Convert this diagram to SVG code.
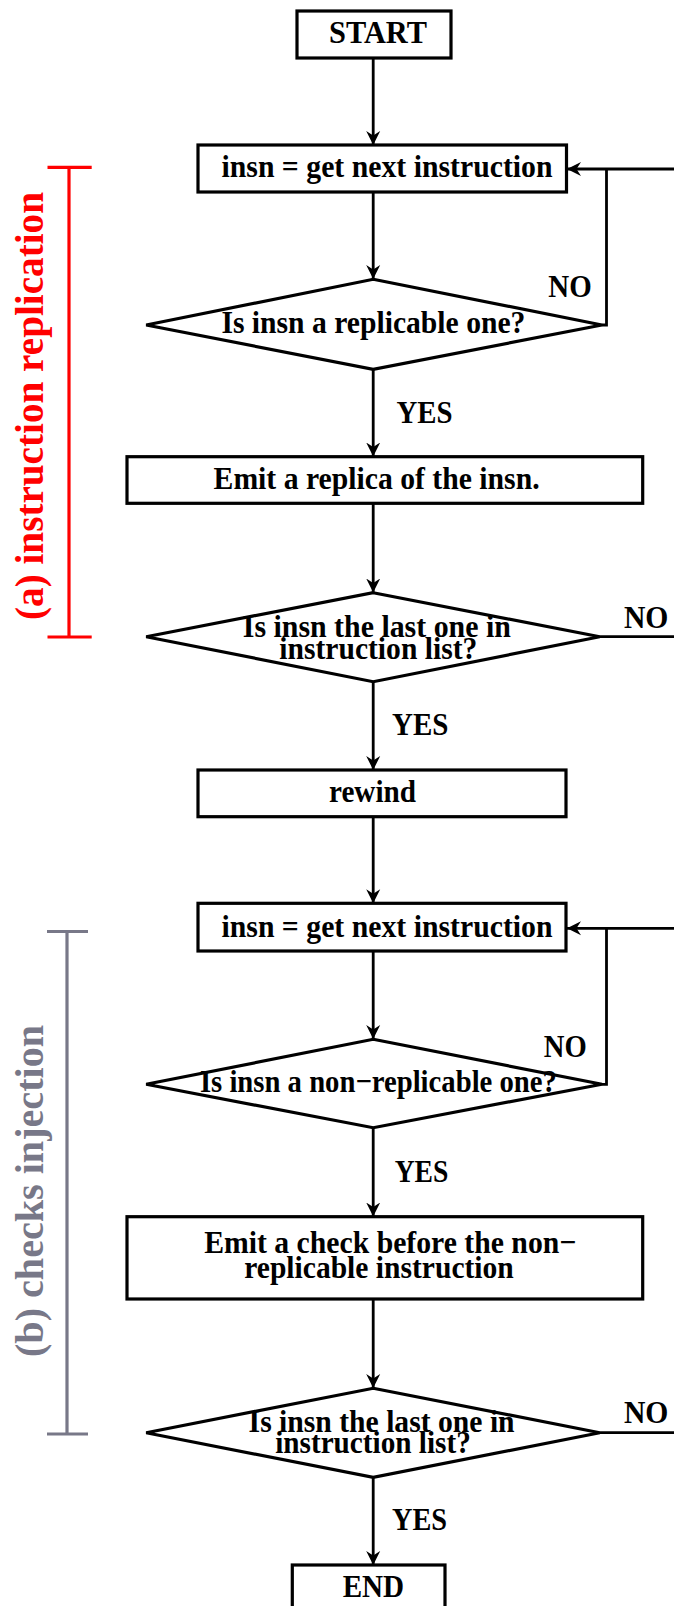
<svg xmlns="http://www.w3.org/2000/svg" width="674" height="1606" viewBox="0 0 674 1606">
  <style>
    .box { fill: #ffffff; stroke: #000000; stroke-width: 3.2; }
    .dia { fill: #ffffff; stroke: #000000; stroke-width: 3.2; stroke-linejoin: miter; }
    .lbl { font-family: "Liberation Serif", "Times New Roman", serif; font-weight: bold; font-size: 32px; fill: #000000; text-anchor: middle; }
    .edge { fill: none; stroke: #000000; stroke-width: 2.8; }
    .arrow { fill: none; stroke: #000000; stroke-width: 2.8; marker-end: url(#head); }
    .side { font-family: "Liberation Serif", "Times New Roman", serif; font-weight: bold; font-size: 41px; text-anchor: middle; }
  </style>
  <defs>
    <marker id="head" markerUnits="userSpaceOnUse" viewBox="-14 -8 15 16" refX="0" refY="0" markerWidth="15" markerHeight="16" orient="auto">
      <path d="M0,0 L-14,-7 L-9.5,0 L-14,7 Z" fill="#000000"/>
    </marker>
  </defs>
  <rect width="674" height="1606" fill="#ffffff"/>

  <!-- phase brackets -->
  <g id="phase-a">
    <path d="M47.5,167.3 H91.7 M69,167.3 V637 M47.5,637 H91.7" fill="none" stroke="#ff0000" stroke-width="3.2"/>
    <text class="side" fill="#ff0000" transform="translate(43,406) rotate(-90)" textLength="428" lengthAdjust="spacingAndGlyphs">(a) instruction replication</text>
  </g>
  <g id="phase-b">
    <path d="M47,931.5 H88 M67,931.5 V1434 M47,1434 H88" fill="none" stroke="#787888" stroke-width="3.2"/>
    <text class="side" fill="#787888" transform="translate(43,1191) rotate(-90)" textLength="332" lengthAdjust="spacingAndGlyphs">(b) checks injection</text>
  </g>

  <!-- connectors -->
  <g id="connectors">
    <path class="arrow" d="M373.2,58 V145"/>
    <path class="arrow" d="M373.2,192 V279"/>
    <path class="arrow" d="M373.2,369.3 V456.5"/>
    <path class="arrow" d="M373.2,503.3 V592.5"/>
    <path class="arrow" d="M373.2,681.7 V770"/>
    <path class="arrow" d="M373.2,816.7 V903.3"/>
    <path class="arrow" d="M373.2,951 V1039"/>
    <path class="arrow" d="M373.2,1127.7 V1216.5"/>
    <path class="arrow" d="M373.2,1299 V1388"/>
    <path class="arrow" d="M373.2,1477.3 V1565"/>
    <!-- loop back to fetch, first pass -->
    <path class="arrow" d="M674,169 H567"/>
    <path class="edge" d="M601.9,325 H606.5 V169"/>
    <!-- loop back to fetch, second pass -->
    <path class="arrow" d="M674,928.3 H567"/>
    <path class="edge" d="M601.9,1084.3 H606.5 V928.3"/>
    <!-- "not last" exits -->
    <path class="edge" d="M599.7,636.7 H674"/>
    <path class="edge" d="M599.7,1432.7 H674"/>
    <text class="lbl" x="570" y="297" textLength="43.4" lengthAdjust="spacingAndGlyphs">NO</text>
    <text class="lbl" x="424.5" y="422.7" textLength="56" lengthAdjust="spacingAndGlyphs">YES</text>
    <text class="lbl" x="646.2" y="628.3" textLength="44.5" lengthAdjust="spacingAndGlyphs">NO</text>
    <text class="lbl" x="420.2" y="735" textLength="56.4" lengthAdjust="spacingAndGlyphs">YES</text>
    <text class="lbl" x="565.3" y="1056.7" textLength="43" lengthAdjust="spacingAndGlyphs">NO</text>
    <text class="lbl" x="421.5" y="1182.3" textLength="53.7" lengthAdjust="spacingAndGlyphs">YES</text>
    <text class="lbl" x="646.2" y="1423.3" textLength="44.5" lengthAdjust="spacingAndGlyphs">NO</text>
    <text class="lbl" x="419.5" y="1530" textLength="55" lengthAdjust="spacingAndGlyphs">YES</text>
  </g>

  <!-- nodes -->
  <g id="start">
    <rect class="box" x="297" y="11" width="154" height="47"/>
    <text class="lbl" x="378" y="43.3" textLength="98" lengthAdjust="spacingAndGlyphs">START</text>
  </g>
  <g id="fetch-a">
    <rect class="box" x="198" y="145" width="368.5" height="47"/>
    <text class="lbl" x="387" y="176.7" textLength="331" lengthAdjust="spacingAndGlyphs">insn = get next instruction</text>
  </g>
  <g id="is-replicable">
    <polygon class="dia" points="373.2,279.3 601.9,325 373.2,369.3 146.2,325"/>
    <text class="lbl" x="373.4" y="333.3" textLength="304" lengthAdjust="spacingAndGlyphs">Is insn a replicable one?</text>
  </g>
  <g id="emit-replica">
    <rect class="box" x="127" y="456.7" width="515.7" height="46.6"/>
    <text class="lbl" x="376.6" y="489.3" textLength="326" lengthAdjust="spacingAndGlyphs">Emit a replica of the insn.</text>
  </g>
  <g id="is-last-a">
    <polygon class="dia" points="373.2,592.7 599.7,636.7 373.2,681.7 146.2,636.7"/>
    <text class="lbl" x="376.8" y="637.3" textLength="268" lengthAdjust="spacingAndGlyphs">Is insn the last one in</text>
    <text class="lbl" x="378.3" y="659.3" textLength="198" lengthAdjust="spacingAndGlyphs">instruction list?</text>
  </g>
  <g id="rewind">
    <rect class="box" x="198" y="770" width="368" height="46.7"/>
    <text class="lbl" x="372.5" y="801.7" textLength="87" lengthAdjust="spacingAndGlyphs">rewind</text>
  </g>
  <g id="fetch-b">
    <rect class="box" x="198" y="903.3" width="368" height="47.7"/>
    <text class="lbl" x="387" y="936.7" textLength="331" lengthAdjust="spacingAndGlyphs">insn = get next instruction</text>
  </g>
  <g id="is-non-replicable">
    <polygon class="dia" points="373.2,1039.3 601.9,1084.3 373.2,1127.7 146.2,1084.3"/>
    <text class="lbl" x="378.4" y="1091.7" textLength="357" lengthAdjust="spacingAndGlyphs">Is insn a non−replicable one?</text>
  </g>
  <g id="emit-check">
    <rect class="box" x="127" y="1216.7" width="515.7" height="82.3"/>
    <text class="lbl" x="390.2" y="1253.3" textLength="372" lengthAdjust="spacingAndGlyphs">Emit a check before the non−</text>
    <text class="lbl" x="379" y="1278.3" textLength="269.6" lengthAdjust="spacingAndGlyphs">replicable instruction</text>
  </g>
  <g id="is-last-b">
    <polygon class="dia" points="373.2,1388.3 599.7,1432.7 373.2,1477.3 146.2,1432.7"/>
    <text class="lbl" x="381.6" y="1432.3" textLength="266" lengthAdjust="spacingAndGlyphs">Is insn the last one in</text>
    <text class="lbl" x="373" y="1453.3" textLength="195.7" lengthAdjust="spacingAndGlyphs">instruction list?</text>
  </g>
  <g id="end">
    <rect class="box" x="292.3" y="1565" width="152.7" height="46"/>
    <text class="lbl" x="373.4" y="1596.7" textLength="61.5" lengthAdjust="spacingAndGlyphs">END</text>
  </g>
</svg>
